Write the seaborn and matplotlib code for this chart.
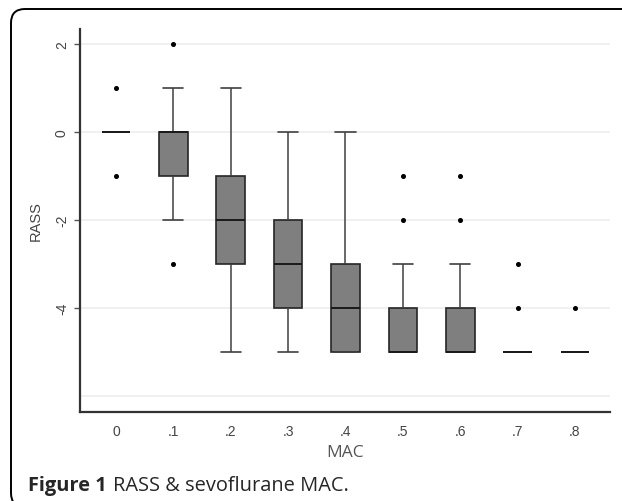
import matplotlib
matplotlib.use("Agg")
import matplotlib.pyplot as plt
from matplotlib.patches import FancyBboxPatch
import seaborn as sns
import pandas as pd

# RASS scores per sevoflurane MAC level
mac_levels = ["0", ".1", ".2", ".3", ".4", ".5", ".6", ".7", ".8"]
rass_mac_0 = [1, 0, 0, 0, 0, 0, 0, 0, 0, -1]
rass_mac_1 = [2, 1, 0, 0, 0, 0, 0, -1, -1, -1, -2, -3]
rass_mac_2 = [1, 0, -1, -1, -2, -2, -2, -3, -3, -4, -5]
rass_mac_3 = [0, -1, -2, -2, -2, -3, -3, -4, -4, -4, -5]
rass_mac_4 = [0, -2, -3, -3, -3, -4, -4, -5, -5, -5, -5]
rass_mac_5 = [-1, -2, -3, -4, -4, -4, -5, -5, -5, -5, -5, -5, -5]
rass_mac_6 = [-1, -2, -3, -4, -4, -4, -5, -5, -5, -5, -5, -5, -5]
rass_mac_7 = [-3, -4, -5, -5, -5, -5, -5, -5, -5, -5]
rass_mac_8 = [-4, -5, -5, -5, -5, -5, -5, -5, -5]
y_ticks = [-4, -2, 0, 2]

groups = [rass_mac_0, rass_mac_1, rass_mac_2, rass_mac_3, rass_mac_4,
          rass_mac_5, rass_mac_6, rass_mac_7, rass_mac_8]
rows = []
for lvl, vals in zip(mac_levels, groups):
    for v in vals:
        rows.append({"MAC": lvl, "RASS": v})
df = pd.DataFrame(rows)

sns.set_style("white")
plt.rcParams['font.family'] = ['Liberation Sans', 'DejaVu Sans']

fig = plt.figure(figsize=(6.22, 5.02), dpi=100)
ax = fig.add_axes([80 / 622, 89 / 502, 530 / 622, 383 / 502])

# light stata-like gridlines
for t in y_ticks + [-6]:
    ax.axhline(t, color="#eeeeee", lw=1.2, zorder=0)

sns.boxplot(
    data=df, x="MAC", y="RASS", order=mac_levels, ax=ax,
    color="#7f7f7f", linecolor="#262626", linewidth=1.2, width=0.5,
    saturation=1, whis=1.5, capwidths=0.35,
    flierprops=dict(marker="o", markersize=2.6, markerfacecolor="black",
                    markeredgecolor="black"),
    medianprops=dict(color="#1a1a1a", lw=1.4),
    whiskerprops=dict(color="#404040", lw=1.1),
    capprops=dict(color="#404040", lw=1.2),
)

ax.set_xlim(-0.627, 8.61)
ax.set_ylim(-6.36, 2.34)
ax.set_yticks(y_ticks)
ax.set_yticklabels([str(t) for t in y_ticks], rotation=90, va="center",
                   fontsize=10, color="#444444")
ax.set_xticks(range(len(mac_levels)))
ax.set_xticklabels(mac_levels, fontsize=10, color="#444444")
ax.tick_params(axis="y", length=4, width=1, color="#555555", pad=4, left=True)
ax.tick_params(axis="x", length=0, pad=9)
ax.set_xlabel("MAC", fontsize=12.5, color="#555555", family="Open Sans", labelpad=4)
ax.set_ylabel("RASS", fontsize=10.5, color="#444444", labelpad=9)
ax.grid(False)

for side in ["top", "right"]:
    ax.spines[side].set_visible(False)
for side in ["left", "bottom"]:
    ax.spines[side].set_color("#333333")
    ax.spines[side].set_linewidth(1.6)

# rounded frame around the figure
frame = FancyBboxPatch((11, -6), 640, 498,
                       boxstyle="round,pad=0,rounding_size=14",
                       transform=None, fill=False, ec="black", lw=1.4,
                       clip_on=False)
fig.patches.append(frame)

t1 = fig.text(28 / 622, 16 / 502, "Figure 1", fontsize=14.4, fontweight="bold",
              family="Open Sans", va="center", ha="left")
fig.canvas.draw()
bb = t1.get_window_extent()
fig.text((bb.x1 + 6) / 622, 16 / 502, "RASS & sevoflurane MAC.", fontsize=14.4,
         family="Open Sans", va="center", ha="left")

fig.savefig("out.png", dpi=100)
